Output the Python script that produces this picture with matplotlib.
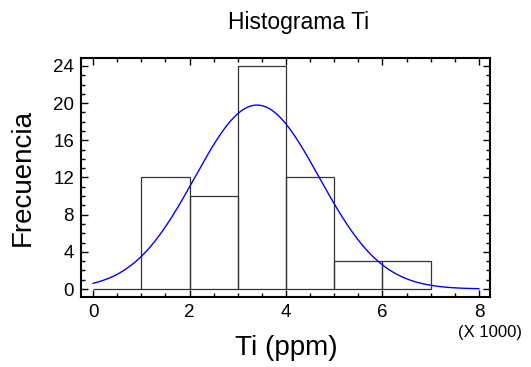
import numpy as np
import matplotlib.pyplot as plt
from matplotlib.ticker import MultipleLocator

plt.rcParams['font.family'] = ['Liberation Sans', 'DejaVu Sans']

# Histogram data (Ti in thousands of ppm)
bin_edges = [0, 1, 2, 3, 4, 5, 6, 7]
counts = [0, 12, 10, 24, 12, 3, 3]

# Fitted normal distribution (thousands of ppm)
fit_mean = 3.4
fit_sd = 1.29
n_obs = sum(counts)
bin_width = 1.0


def main():
    fig = plt.figure(figsize=(5.31, 3.67), dpi=100)
    ax = fig.add_axes([0.1525, 0.1907, 0.7703, 0.6513])

    lefts = np.array(bin_edges[:-1])
    widths = np.diff(bin_edges)
    ax.bar(lefts, counts, width=widths, align='edge', facecolor='none',
           edgecolor='#333333', linewidth=0.9)

    # normal curve scaled to counts
    xs = np.linspace(0, 8, 400)
    ys = n_obs * bin_width / (fit_sd * np.sqrt(2 * np.pi)) * \
        np.exp(-(xs - fit_mean) ** 2 / (2 * fit_sd ** 2))
    ax.plot(xs, ys, color='#0000ff', linewidth=1)

    ax.set_xlim(-0.25, 8.23)
    ax.set_ylim(-0.86, 24.86)
    ax.xaxis.set_major_locator(MultipleLocator(2))
    ax.xaxis.set_minor_locator(MultipleLocator(0.5))
    ax.yaxis.set_major_locator(MultipleLocator(4))
    ax.yaxis.set_minor_locator(MultipleLocator(1))
    ax.tick_params(which='both', direction='in', top=True, right=True,
                   labelsize=13.5, width=1)
    ax.tick_params(which='major', length=5)
    ax.tick_params(which='minor', length=3)
    ax.tick_params(axis='x', pad=5)
    ax.tick_params(axis='y', pad=5)
    for sp in ax.spines.values():
        sp.set_linewidth(1.5)

    fig.text(0.563, 0.94, "Histograma Ti", fontsize=16.5,
             ha='center', va='center')
    fig.text(0.539, 0.052, "Ti (ppm)", fontsize=20, ha='center', va='center')
    fig.text(0.043, 0.515, "Frecuencia", fontsize=20, rotation=90,
             ha='center', va='center')
    fig.text(0.923, 0.095, "(X 1000)", fontsize=12, ha='center', va='center')

    fig.savefig('out.png', dpi=100)


if __name__ == '__main__':
    main()
